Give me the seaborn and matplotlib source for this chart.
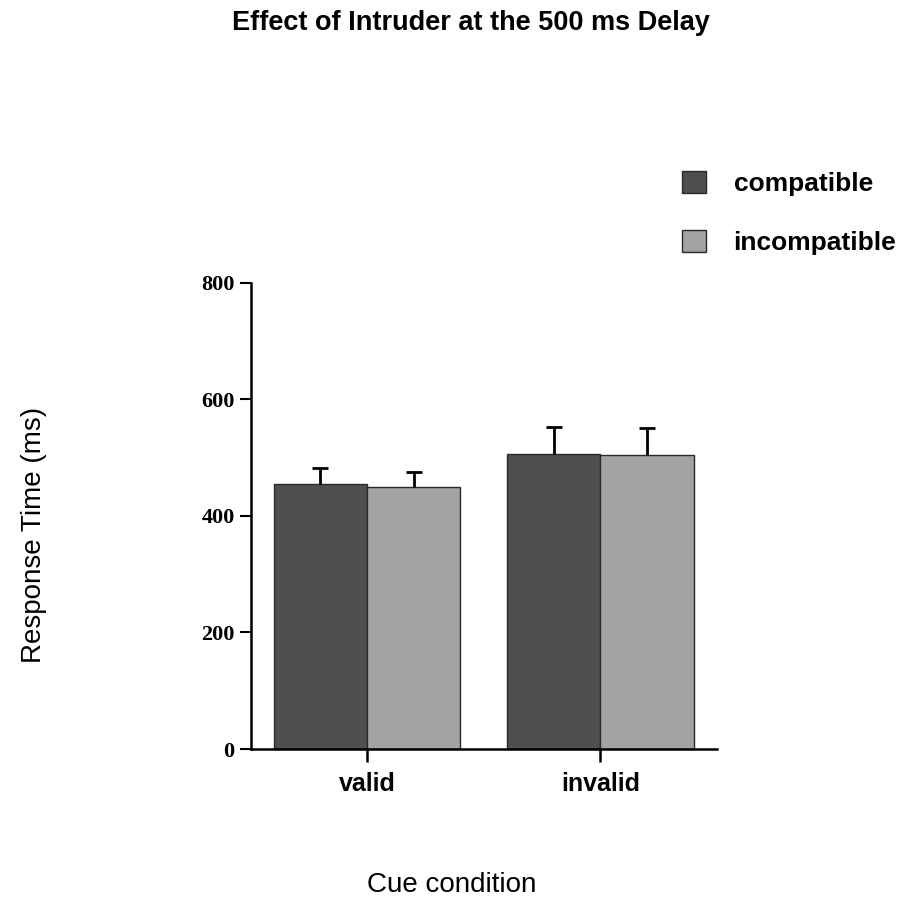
import numpy as np
import pandas as pd
import matplotlib
matplotlib.use("Agg")
import matplotlib.pyplot as plt
import seaborn as sns
from matplotlib.patches import Patch

# values
cue = ["valid", "invalid"]
compatible_rt = [454, 506]
incompatible_rt = [449, 504]
compatible_err = [28, 47]
incompatible_err = [26, 46]
y_ticks = [0, 200, 400, 600, 800]

df = pd.DataFrame({
    "cue": cue * 2,
    "condition": ["compatible"] * 2 + ["incompatible"] * 2,
    "rt": compatible_rt + incompatible_rt,
})

colors = ["#4f4f4f", "#a3a3a3"]

sns.set_style("ticks", {"axes.edgecolor": "black", "text.color": "black",
                        "axes.labelcolor": "black", "xtick.color": "black",
                        "ytick.color": "black"})
plt.rcParams["font.family"] = ["Liberation Sans", "DejaVu Sans"]

fig = plt.figure(figsize=(9.1, 8.98), dpi=100)
ax = fig.add_axes([0.2753, 0.1659, 0.5126, 0.5193])

sns.barplot(data=df, x="cue", y="rt", hue="condition", order=cue,
            hue_order=["compatible", "incompatible"],
            palette=colors, errorbar=None, width=0.8,
            edgecolor="#2a2a2a", linewidth=1, saturation=1, legend=False, ax=ax)

# upper-only error bars (T shape) on each bar
for cont, errs in zip(ax.containers, [compatible_err, incompatible_err]):
    xs = [p.get_x() + p.get_width() / 2 for p in cont.patches]
    ys = [p.get_height() for p in cont.patches]
    _, caps, _ = ax.errorbar(xs, ys, yerr=[np.zeros(len(errs)), errs], fmt="none",
                             ecolor="black", elinewidth=2, capsize=6, capthick=2)
    for cap in caps:
        if np.allclose(cap.get_ydata(), ys):
            cap.set_visible(False)

ax.set_xlim(-0.5, 1.5)
ax.set_ylim(0, 800)
ax.set_yticks(y_ticks)
ax.set_yticklabels([str(v) for v in y_ticks], family="Liberation Serif",
                   fontweight="bold", fontsize=16)
ax.tick_params(axis="y", direction="out", length=8, width=1.5, pad=3.5)
ax.tick_params(axis="x", direction="out", length=9.5, width=1.8, pad=7,
               labelsize=18)
for lab in ax.get_xticklabels():
    lab.set_fontweight("bold")

sns.despine(ax=ax)
for side in ["left", "bottom"]:
    ax.spines[side].set_linewidth(1.8)

ax.set_xlabel("Cue condition", fontsize=20)
ax.xaxis.set_label_coords(0.431, -0.264)
ax.set_ylabel("Response Time (ms)", fontsize=20)
ax.yaxis.set_label_coords(-0.436, 0.459)

fig.text(0.5176, 0.974, "Effect of Intruder at the 500 ms Delay",
         ha="center", va="center", fontsize=19.5, fontweight="bold")

handles = [Patch(facecolor=colors[0], edgecolor="#2a2a2a"),
           Patch(facecolor=colors[1], edgecolor="#2a2a2a")]
ax.legend(handles, ["compatible", "incompatible"], loc="upper left",
          bbox_to_anchor=(0.7495, 0.8096), bbox_transform=fig.transFigure,
          frameon=False, borderpad=0, borderaxespad=0, handlelength=0.9,
          handleheight=0.9, handletextpad=1.05, labelspacing=1.3,
          prop={"size": 19, "weight": "bold"})

fig.savefig("out.png", dpi=100)
